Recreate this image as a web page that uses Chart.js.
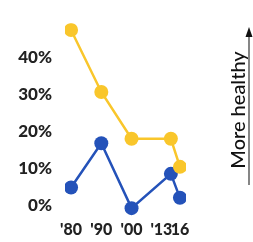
<!DOCTYPE html>
<html>
<head>
<meta charset="utf-8">
<script src="https://cdn.jsdelivr.net/npm/chart.js@4"></script>
<style>
  html, body { margin: 0; padding: 0; background: #fff; }
  #wrap { width: 253px; height: 242px; }
</style>
</head>
<body>
<div id="wrap"><canvas id="healthChart" width="253" height="242"></canvas></div>
<script>
// data
const years = [1980, 1990, 2000, 2013, 2016];
const yearLabels = ["'80", "'90", "'00", "'13     ", "16"];
const yellowValues = [47.5, 30.7, 18, 18, 10.4];
const blueValues = [4.8, 16.8, -0.8, 8.5, 2];
const yTicks = [0, 10, 20, 30, 40];

const yellow = '#F9C62B';
const blue = '#2452B9';

function toPoints(vals) {
  return years.map((yr, i) => ({ x: yr, y: vals[i] }));
}

// side label with the arrow
const sideArrow = {
  id: 'sideArrow',
  afterDraw(chart) {
    const ctx = chart.ctx;
    ctx.save();
    ctx.translate(239, 110);
    ctx.rotate(-Math.PI / 2);
    ctx.font = '500 20px Lato';
    ctx.fillStyle = '#111';
    ctx.textAlign = 'center';
    ctx.textBaseline = 'middle';
    ctx.fillText('More healthy', 0, 0);
    ctx.restore();

    ctx.save();
    ctx.strokeStyle = '#444';
    ctx.lineWidth = 1.3;
    ctx.beginPath();
    ctx.moveTo(249, 185);
    ctx.lineTo(249, 34);
    ctx.stroke();
    ctx.fillStyle = '#111';
    ctx.beginPath();
    ctx.moveTo(249, 27);
    ctx.lineTo(245.5, 37);
    ctx.lineTo(252.5, 37);
    ctx.closePath();
    ctx.fill();
    ctx.restore();
  }
};

const tickFont = { family: 'Lato', weight: '900', size: 17 };

new Chart(document.getElementById('healthChart'), {
  type: 'line',
  data: {
    datasets: [{
      data: toPoints(yellowValues),
      borderColor: yellow,
      backgroundColor: yellow,
      borderWidth: 2.5,
      pointRadius: 7,
      pointBorderWidth: 0
    }, {
      data: toPoints(blueValues),
      borderColor: blue,
      backgroundColor: blue,
      borderWidth: 2.5,
      pointRadius: 7,
      pointBorderWidth: 0
    }]
  },
  options: {
    responsive: false,
    animation: false,
    layout: { padding: { left: 13, right: 67, top: 20, bottom: 4 } },
    plugins: { legend: { display: false }, tooltip: { enabled: false } },
    scales: {
      x: {
        type: 'linear',
        min: 1978,
        max: 2018,
        grid: { display: false, drawTicks: false, tickLength: 0 },
        border: { display: false },
        afterBuildTicks: s => { s.ticks = years.map(v => ({ value: v })); },
        afterFit: s => { s.height = 20; },
        ticks: {
          autoSkip: false,
          maxRotation: 0,
          padding: 2,
          color: '#222',
          font: { family: 'Lato', weight: '900', size: 16 },
          callback: (v, i) => yearLabels[i]
        }
      },
      y: {
        min: -3.47,
        max: 49.33,
        grid: { display: false, drawTicks: false, tickLength: 0 },
        border: { display: false },
        afterBuildTicks: s => { s.ticks = yTicks.map(v => ({ value: v })); },
        afterFit: s => { s.width = 52; },
        ticks: {
          padding: 13,
          color: '#222',
          font: tickFont,
          callback: v => v + '%'
        }
      }
    }
  },
  plugins: [sideArrow]
});
</script>
</body>
</html>
